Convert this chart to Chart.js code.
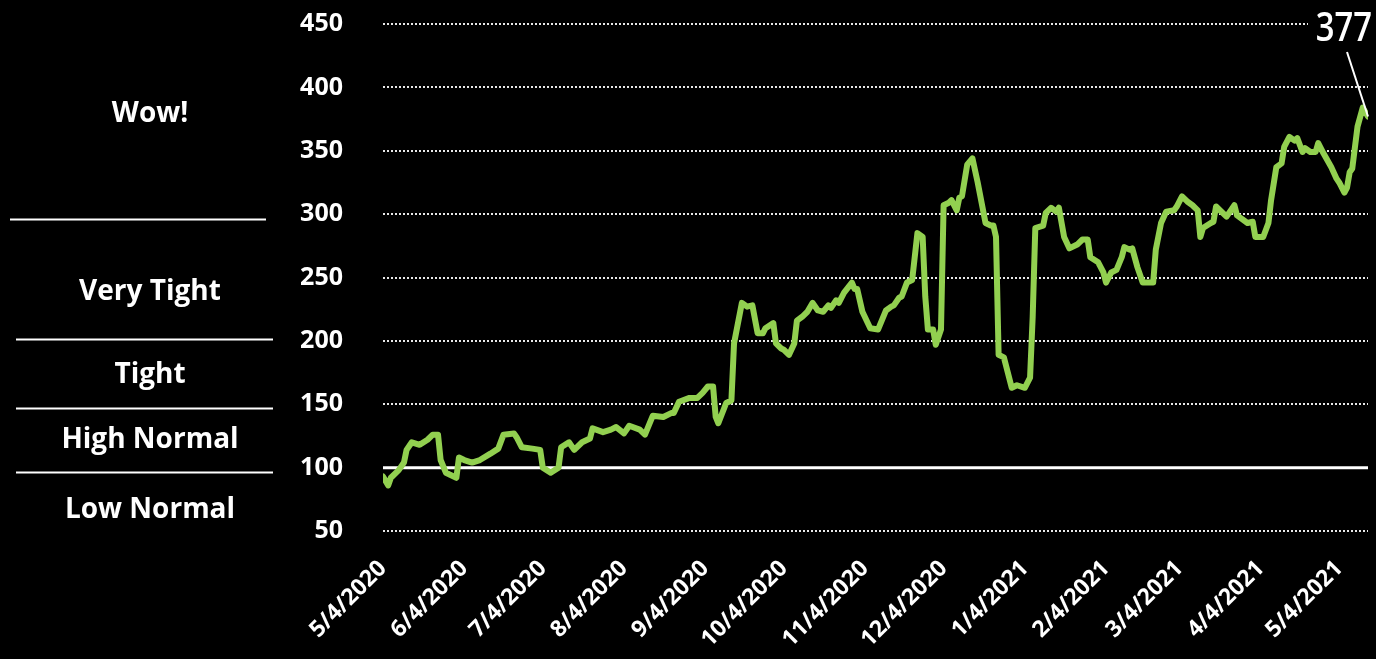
<!DOCTYPE html>
<html><head><meta charset="utf-8">
<script src="https://cdn.jsdelivr.net/npm/chart.js@4"></script>
<style>html,body{margin:0;padding:0;background:#000;overflow:hidden}#wrap{width:1376px;height:659px}</style>
</head><body><div id="wrap"><canvas id="c" width="1376" height="659"></canvas></div>
<script>
// days since 5/4/2020
const dayIndex = [0,2,3,6,8,9,11,14,17,19,21,22,24,28,29,31,34,37,41,44,46,50,51,53,57,60,61,64,67,68,71,73,76,79,80,84,87,89,92,94,98,100,103,107,110,111,113,117,120,122,124,126,127,128,131,133,134,137,139,141,143,145,146,149,150,152,153,155,157,158,160,162,164,166,168,170,171,173,174,176,179,180,181,183,186,189,192,194,195,197,198,200,202,204,206,207,208,210,211,213,214,216,217,219,220,221,223,225,227,230,232,233,234,235,237,240,242,245,247,248,249,252,253,255,257,258,260,262,265,267,269,270,273,275,276,278,280,282,283,285,286,288,290,292,294,295,297,299,302,303,305,307,309,311,312,313,316,317,318,322,325,326,330,332,333,336,338,339,341,343,344,346,348,349,351,352,354,356,357,359,362,364,365,367,368,369,370,372,374,376];
const values = [93,86,92,98,104,114,120,118,122,126,
126,106,96,92,108,106,104,106,111,115,
126,127,124,116,115,114,100,96,100,116,
120,114,120,123,131,128,130,132,127,133,
130,126,141,140,143,143,152,155,155,159,
164,164,140,135,151,153,198,230,227,228,
206,206,210,214,198,194,193,189,198,216,
219,223,230,224,223,228,226,232,230,238,
246,241,241,223,210,209,224,227,228,234,
235,246,248,285,282,235,209,209,197,209,
307,309,311,303,313,314,339,344,325,293,
291,291,282,189,187,163,165,163,171,219,
289,291,301,305,302,305,282,273,276,280,
280,266,262,254,246,254,256,266,274,272,
273,258,246,246,246,272,293,302,303,306,
314,310,307,303,282,289,293,294,306,298,
307,299,293,294,282,282,293,311,337,340,
353,361,358,360,349,352,349,349,356,348,
337,328,325,317,321,333,336,369,384,377];
const tickDays = [0,31,61,92,123,153,184,214,245,276,304,335,365];
const tickLabels = ['5/4/2020','6/4/2020','7/4/2020','8/4/2020','9/4/2020','10/4/2020','11/4/2020','12/4/2020','1/4/2021','2/4/2021','3/4/2021','4/4/2021','5/4/2021'];
const bandNames = ['Wow!','Very Tight','Tight','High Normal','Low Normal'];
const bandNameValues = [380.6,240,174.7,123.4,68.5];
const bandEdgeValues = [296.5,201.5,147,96.5];
const baselineValue = 100;
const lastLabel = '377';

const sideBands = {
  id:'sideBands',
  afterDraw(chart){
    const ctx = chart.ctx, y = chart.scales.y;
    ctx.save();
    ctx.fillStyle = '#fff';
    ctx.font = 'bold 28px "Open Sans"';
    ctx.textAlign = 'center';
    ctx.textBaseline = 'alphabetic';
    bandNames.forEach((n,i)=>{
      ctx.fillText(n, 150, y.getPixelForValue(bandNameValues[i]) + 10);
    });
    ctx.strokeStyle = '#fff';
    ctx.lineWidth = 2;
    bandEdgeValues.forEach((v,i)=>{
      const py = Math.round(y.getPixelForValue(v)) + 0.5;
      ctx.beginPath();
      ctx.moveTo(i===0?10:16, py);
      ctx.lineTo(i===0?266:273, py);
      ctx.stroke();
    });
    ctx.restore();
  }
};
const baseLine = {
  id:'baseLine',
  beforeDatasetsDraw(chart){
    const ctx = chart.ctx, y = chart.scales.y, a = chart.chartArea;
    const py = y.getPixelForValue(baselineValue);
    ctx.save();
    ctx.strokeStyle = '#fff';
    ctx.lineWidth = 3;
    ctx.beginPath(); ctx.moveTo(a.left, py); ctx.lineTo(a.right, py); ctx.stroke();
    ctx.restore();
  }
};
const lastValueLabel = {
  id:'lastValueLabel',
  afterDraw(chart){
    const ctx = chart.ctx;
    const meta = chart.getDatasetMeta(0);
    const p = meta.data[meta.data.length-1];
    ctx.save();
    ctx.fillStyle = '#000';
    ctx.fillRect(1308, 4, 68, 44);
    ctx.save();
    ctx.translate(1372, 41);
    ctx.scale(0.82, 1);
    ctx.fillStyle = '#fff';
    ctx.font = '600 40px "Open Sans"';
    ctx.textAlign = 'right';
    ctx.textBaseline = 'alphabetic';
    ctx.fillText(lastLabel, 0, 0);
    ctx.restore();
    ctx.strokeStyle = '#fff';
    ctx.lineWidth = 2;
    ctx.beginPath(); ctx.moveTo(p.x - 21, 52); ctx.lineTo(p.x, p.y); ctx.stroke();
    ctx.restore();
  }
};

new Chart(document.getElementById('c'), {
  type:'line',
  data:{datasets:[{
    data: dayIndex.map((d,i)=>({x:d, y:values[i]})),
    borderColor:'#92D050', borderWidth:6, pointRadius:0, tension:0,
    borderJoinStyle:'round', borderCapStyle:'round', fill:false
  }]},
  options:{
    responsive:false, animation:false, devicePixelRatio:1,
    layout:{padding:{top:24,right:8,bottom:0,left:0}},
    plugins:{legend:{display:false}, tooltip:{enabled:false}},
    scales:{
      x:{type:'linear', min:0, max:376,
        afterBuildTicks: s => { s.ticks = tickDays.map(v=>({value:v})); },
        ticks:{color:'#fff', font:{family:'Open Sans', weight:'bold', size:23}, maxRotation:45, minRotation:45, autoSkip:false, padding:16,
          callback: v => { const i = tickDays.indexOf(v); return i>=0 ? tickLabels[i] : ''; }},
        grid:{display:false}, border:{display:false},
        afterFit: s => { s.height = 128; }
      },
      y:{min:50, max:450,
        ticks:{stepSize:50, color:'#fff', font:{family:'Open Sans', weight:'bold', size:25}, padding:40},
        grid:{color: c => c.tick && c.tick.value===baselineValue ? 'rgba(0,0,0,0)' : '#e8e8e8', lineWidth:2, drawTicks:false},
        border:{display:false, dash:[2,2]},
        afterFit: s => { s.width = 383; s.paddingTop = 0; s.paddingBottom = 0; }
      }
    }
  },
  plugins:[baseLine, sideBands, lastValueLabel]
});
</script></body></html>
